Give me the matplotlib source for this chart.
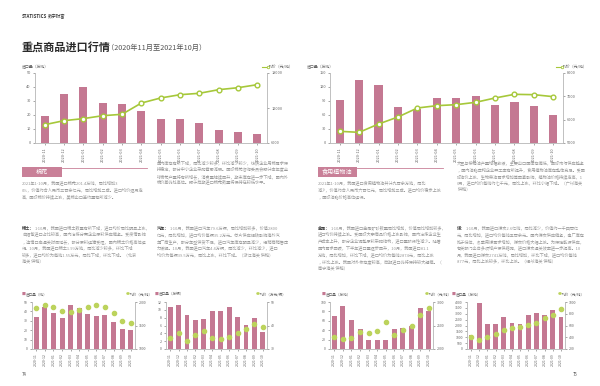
import matplotlib
matplotlib.use("Agg")
import matplotlib.pyplot as plt
from matplotlib.patches import Rectangle
from matplotlib.lines import Line2D
import numpy as np

plt.rcParams['font.family'] = ['Noto Sans CJK SC', 'DejaVu Sans']

months = ["2020-11", "2020-12", "2021-01", "2021-02", "2021-03", "2021-04",
          "2021-05", "2021-06", "2021-07", "2021-08", "2021-09", "2021-10"]

# 棉花
cotton_qty = [19.5, 35.2, 39.8, 28.8, 27.9, 23.1, 17.4, 17.1, 14.3, 9.0, 7.9, 6.7]
cotton_price = [9140, 9830, 10180, 10680, 10920, 12850, 13720, 14280, 14520, 15140, 15480, 16000]
# 食用植物油
oil_qty = [91.4, 135.7, 125.0, 77.9, 72.9, 96.4, 96.4, 101.4, 82.1, 87.9, 78.6, 60.7]
oil_price = [5500, 5457, 5814, 6114, 6500, 6600, 6643, 6743, 6929, 7086, 7071, 6986]
# 稀土
rare_qty = [33.6, 44.4, 38.5, 32.5, 46.5, 44.1, 37.4, 35.0, 35.7, 29.0, 21.3, 19.9]
rare_price = [1881, 1944, 1895, 1818, 1797, 1825, 1888, 1944, 1888, 1769, 1601, 1552]
# 汽车
car_qty = [10.7, 11.3, 8.8, 7.4, 7.6, 9.8, 9.7, 10.7, 8.1, 6.1, 7.9, 4.4]
car_price = [34.6, 37.0, 33.6, 35.9, 37.6, 34.6, 34.3, 35.0, 36.6, 38.7, 40.5, 39.5]
# 金属
metal_qty = [70.6, 91.6, 61.5, 43.4, 19.6, 18.2, 18.9, 42.5, 44.0, 49.0, 87.4, 81.1]
metal_price = [2252, 2210, 2231, 2371, 2350, 2378, 2566, 2308, 2406, 2490, 2720, 2874]
# 煤
coal_qty = [1203, 3944, 2098, 2098, 2741, 2238, 2126, 2881, 3049, 2881, 3357, 2741]
coal_price = [401, 356, 401, 452, 524, 552, 569, 614, 636, 731, 787, 877]

PINK = "#c47892"
GREEN = "#a6c83a"
DOT = "#bcd35c"
AXIS = "#bbbbbb"
TICK = "#666666"
BODY = "#9a9a9a"

W, H = 600, 386
fig = plt.figure(figsize=(6, 3.86), dpi=100)


def box(x0, y0, x1, y1):
    return [x0 / W, 1 - y1 / H, (x1 - x0) / W, (y1 - y0) / H]


def ftext(x, y, s, **kw):
    kw.setdefault("va", "center")
    fig.text(x / W, 1 - y / H, s, **kw)


def chart(rect, qty, price, qmax, qstep, plo, phi, pstep, big):
    ax = fig.add_axes(box(*rect))
    pos = np.arange(len(months))
    ax.bar(pos, qty, width=0.42 if big else 0.58, color=PINK, zorder=2)
    ax.set_xlim(-0.5, len(months) - 0.5)
    ax.set_ylim(0, qmax)
    ax.set_yticks(np.arange(0, qmax + qstep / 2, qstep))
    ax.set_xticks(pos)
    ax.set_xticklabels(months, rotation=90)
    ax2 = ax.twinx()
    ax2.set_ylim(plo, phi)
    ax2.set_yticks(np.arange(plo, phi + pstep / 2, pstep))
    if big:
        ax2.plot(pos, price, color=GREEN, lw=1.2, marker='o', ms=3.4,
                 mfc='white', mec=GREEN, mew=1.0, zorder=3)
    else:
        ax2.plot(pos, price, ls='none', marker='o', ms=3.0,
                 mfc=DOT, mec=DOT, zorder=3)
    size = 2.8 if big else 2.5
    for a in (ax, ax2):
        a.spines['top'].set_visible(False)
        for s in ('left', 'right', 'bottom'):
            a.spines[s].set_color(AXIS)
            a.spines[s].set_linewidth(0.5)
        a.tick_params(labelsize=size, colors=TICK, length=1.5, width=0.4, pad=1.5)
        a.patch.set_alpha(0)
    return ax


def legend(lx, rx, y, qty_label, price_label, big):
    if big:
        ftext(lx, y, qty_label, fontsize=2.8, color=TICK)
        fig.add_artist(Line2D([rx / W, (rx + 6) / W], [1 - y / H, 1 - y / H],
                              transform=fig.transFigure, color=GREEN, lw=0.8,
                              marker='o', ms=1.8, mfc='white', mec=GREEN, mew=0.6,
                              markevery=[1]))
        ftext(rx + 7, y, price_label, fontsize=2.8, color=TICK)
    else:
        ftext(lx, y, "■", fontsize=2.8, color=PINK)
        ftext(lx + 4, y, qty_label, fontsize=2.6, color=TICK)
        ftext(rx, y, "●", fontsize=2.8, color=DOT)
        ftext(rx + 4, y, price_label, fontsize=2.6, color=TICK)


def paragraph(x, y, text, n, nlines, label=None):
    lines = [text[i:i + n] for i in range(0, len(text), n)][:nlines]
    for k, line in enumerate(lines):
        xx = x
        if k == 0 and label:
            ftext(x, y, label, fontsize=3.0, color="#444444", fontweight="bold")
            xx = x + len(label) * 4.2
        ftext(xx, y + k * 6.7, line, fontsize=3.0, color=BODY)


def section(x0, x1, line_end, name):
    fig.add_artist(Rectangle((x0 / W, 1 - 177 / H), (x1 - x0) / W, 10 / H,
                             transform=fig.transFigure, color="#c98098", lw=0))
    fig.add_artist(Line2D([x1 / W, line_end / W], [1 - 167.5 / H, 1 - 167.5 / H],
                          transform=fig.transFigure, color="#c98098", lw=0.6))
    ftext((x0 + x1) / 2, 172, name, fontsize=4.4, color="white", ha="center")


# page header
ftext(22, 17, "STATISTICS", fontsize=3.2, color="#333333", fontweight="bold")
ftext(48, 17, "数字财富", fontsize=3.2, color="#333333")
ftext(22, 47, "重点商品进口行情", fontsize=8, color="#2a2a2a", fontweight="bold")
ftext(107, 48, "（2020年11月至2021年10月）", fontsize=5.2, color="#555555")

# top charts
chart((35, 73, 267, 143), cotton_qty, cotton_price, 50, 10, 6000, 18000, 6000, True)
legend(22, 262, 67, "进口量（万吨）", "均价（元/吨）", True)
chart((330, 73, 563, 143), oil_qty, oil_price, 150, 30, 5000, 8000, 1000, True)
legend(307, 556, 67, "进口量（万吨）", "均价（元/吨）", True)

section(22, 62, 147, "棉花")
section(318, 357, 443, "食用植物油")

txt_cotton_a = ("2021年1-10月，我国进口棉花201.4万吨，同比增加30%，价值约合人民币"
                "三百余亿元，同比增加二成。进口均价逐月走高，国际棉价持续上涨，美棉出口"
                "签约量有所减少。")
txt_cotton_b = ("国内库存有所下降，同比减少较多，环比减少较少，纺织企业用棉需求保持稳定，"
                "部分中小企业采购意愿减弱。国际棉花咨询委员会预计本年度全球棉花产量将"
                "有所增长，消费量继续回升，期末库存进一步下降，国内外棉价差仍处高位。"
                "预计后期进口棉花数量将保持在较低水平。")
txt_rare = ("1-10月，我国进口稀土数量有所下降，进口均价同比明显上涨，自缅甸进口占比"
            "较高，国内冶炼分离企业原料供应偏紧。受疫情影响，边境口岸通关时间延长，"
            "部分原料运输受阻，国内稀土价格高位运行。10月，我国进口稀土1.99万吨，"
            "同比减少较多，环比下降较多，进口均价为每吨1.55万元，同比下降，环比下降。"
            "（北京海关 供稿）")
txt_car = ("1-10月，我国进口汽车79.6万辆，同比增加较多，价值2800亿元，同比增加，"
           "进口均价每辆35.2万元。芯片供应短缺影响海外汽车厂商生产，部分车型供货"
           "不足，进口汽车库存明显减少，经销商销售压力缓解。10月，我国进口汽车4.4万辆，"
           "同比减少，环比减少，进口均价为每辆39.5万元，同比上涨，环比下降。"
           "（浙江海关 供稿）")
txt_oil_a = ("2021年1-10月，我国进口食用植物油共计九百余万吨，同比减少，价值约合人民币"
             "六百亿元，同比增加三成。进口均价稳步上涨，国际油脂价格高位运行。")
txt_oil_b = ("大豆与棕榈油产量增幅放缓，主要出口国库存偏低，国际市场供应趋紧，国内油脂"
             "压榨企业开工率有所提升，食用植物油库存整体充足。受国际油价上涨、生物柴油"
             "需求增加等因素影响，植物油价格持续走高，10月，进口均价每吨约七千元，"
             "同比上涨，环比小幅下降。（广州海关 供稿）")
txt_metal = ("1-10月，我国进口金属矿砂数量同比增加，价值同比增加较多，进口均价持续上涨。"
             "受国际大宗商品价格上涨影响，国内冶炼企业生产成本上升，部分企业调整原料"
             "采购结构，进口量阶段性减少。随着国内需求回暖，下半年进口量逐步回升，"
             "10月，我国进口81.1万吨，同比增加，环比下降，进口均价为每吨2874元，"
             "同比上涨，环比上涨。我国对外依存度较高，后期进口仍将保持较大规模。"
             "（南宁海关 供稿）")
txt_coal = ("1-10月，我国进口煤炭2.6亿吨，同比减少，价值约一千四百亿元，同比增加，"
            "进口均价每吨五百余元。国内煤炭供应偏紧，电厂库存处于低位，冬季用煤需求"
            "增加，煤炭价格大幅上涨。为保障能源供应，有关部门出台多项增产保供措施，"
            "进口煤炭通关效率进一步提高。10月，我国进口煤炭2741万吨，同比增加，"
            "环比下降，进口均价每吨877元，同比上涨较多，环比上涨。（福州海关 供稿）")

paragraph(22, 183, txt_cotton_a, 30, 4)
paragraph(157, 163, txt_cotton_b, 32, 7)
paragraph(22, 228, txt_rare, 30, 8, label="稀土：")
paragraph(157, 228, txt_car, 32, 8, label="汽车：")
paragraph(318, 183, txt_oil_a, 30, 4)
paragraph(457, 163, txt_oil_b, 31, 7)
paragraph(318, 228, txt_metal, 30, 9, label="金属：")
paragraph(457, 228, txt_coal, 31, 9, label="煤：")

# bottom charts
chart((32, 302, 135, 349), rare_qty, rare_price, 50, 10, 1000, 2000, 500, False)
legend(22, 126, 294, "进口量（吨）", "均价（元/吨）", False)
chart((166, 302, 267, 349), car_qty, car_price, 12, 2, 30, 50, 10, False)
legend(155, 256, 294, "进口量（万辆）", "均价（万元/辆）", False)
chart((330, 302, 433, 349), metal_qty, metal_price, 100, 20, 2000, 3000, 500, False)
legend(322, 425, 294, "进口量（万吨）", "均价（元/吨）", False)
chart((467, 302, 565, 349), coal_qty, coal_price, 4000, 500, 200, 1000, 200, False)
legend(452, 558, 294, "进口量（万吨）", "均价（元/吨）", False)

# page numbers
ftext(22, 374, "74", fontsize=3.2, color="#555555")
ftext(573, 374, "75", fontsize=3.2, color="#555555")

fig.savefig("out.png", dpi=100)
